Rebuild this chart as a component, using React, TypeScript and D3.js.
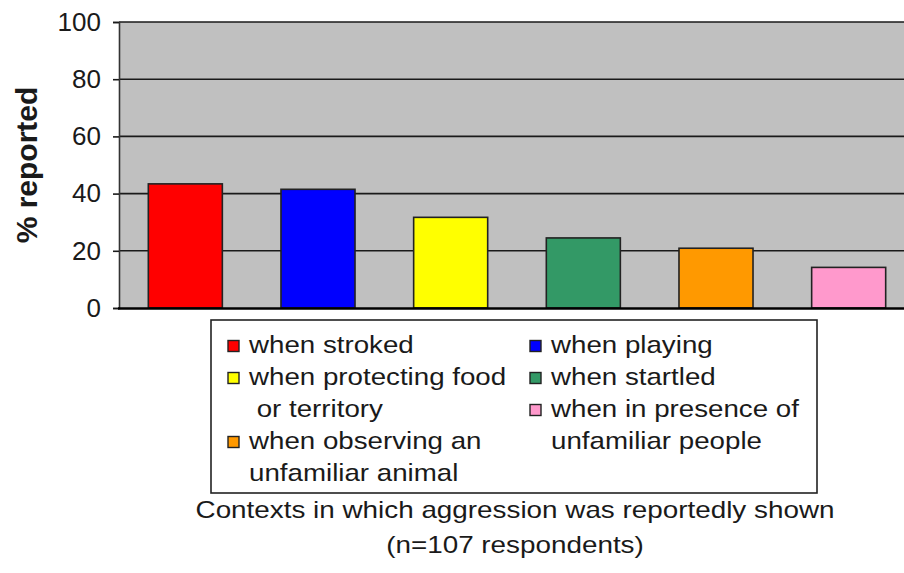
import { useEffect, useRef } from 'react'
import * as d3 from 'd3'

const categories = [
  'when stroked',
  'when playing',
  'when protecting food or territory',
  'when startled',
  'when observing an unfamiliar animal',
  'when in presence of unfamiliar people'
]
const values = [43.4, 41.5, 31.7, 24.5, 20.9, 14.2]
const colors = ['#ff0000', '#0000ff', '#ffff00', '#339966', '#ff9900', '#ff99cc']
const yTicks = [0, 20, 40, 60, 80, 100]

// legend: column, row and the wrapped label lines of each category
const legendCol = [0, 1, 0, 1, 0, 1]
const legendRow = [0, 0, 1, 1, 3, 2]
const legendLines = [
  ['when stroked'],
  ['when playing'],
  ['when protecting food', ' or territory'],
  ['when startled'],
  ['when observing an', 'unfamiliar animal'],
  ['when in presence of', 'unfamiliar people']
]
const xTitle = ['Contexts in which aggression was reportedly shown', '(n=107 respondents)']
const yTitle = '% reported'

const W = 904
const H = 573

export default function App() {
  const svgRef = useRef<SVGSVGElement>(null)

  useEffect(() => {
    if (!svgRef.current) return
    const svg = d3.select(svgRef.current)
    svg.selectAll('*').remove()

    const plot = { left: 119, right: 915, top: 22, bottom: 308 }
    const font = 'Arial, "Liberation Sans", Helvetica, sans-serif'
    const ink = '#1a1a1a'

    const x = d3.scaleBand<string>()
      .domain(categories)
      .range([plot.left, plot.right])
      .paddingInner(0.442)
      .paddingOuter(0.221)

    const y = d3.scaleLinear()
      .domain([0, 100])
      .range([plot.bottom, plot.top])

    // plot background
    svg.append('rect')
      .attr('x', plot.left)
      .attr('y', plot.top)
      .attr('width', plot.right - plot.left)
      .attr('height', plot.bottom - plot.top)
      .attr('fill', '#c0c0c0')

    // grid lines
    svg.append('g')
      .selectAll('line')
      .data(yTicks.filter(d => d > 0))
      .join('line')
      .attr('x1', plot.left)
      .attr('x2', plot.right)
      .attr('y1', d => y(d))
      .attr('y2', d => y(d))
      .attr('stroke', ink)
      .attr('stroke-width', 1.6)

    // bars
    svg.append('g')
      .selectAll('rect')
      .data(values)
      .join('rect')
      .attr('x', (_, i) => x(categories[i])!)
      .attr('y', d => y(d))
      .attr('width', x.bandwidth())
      .attr('height', d => y(0) - y(d))
      .attr('fill', (_, i) => colors[i])
      .attr('stroke', '#222')
      .attr('stroke-width', 1.6)

    // y axis
    const yAxis = d3.axisLeft(y)
      .tickValues(yTicks)
      .tickSize(6)
      .tickPadding(12)
      .tickFormat(d => `${d}`)

    const ya = svg.append('g')
      .attr('transform', `translate(${plot.left}, 0)`)
      .call(yAxis)
    ya.select('.domain').attr('stroke', '#333').attr('stroke-width', 1.6)
    ya.selectAll('.tick line').attr('stroke', ink).attr('stroke-width', 1.6)
    ya.selectAll('.tick text')
      .attr('font-family', font)
      .attr('font-size', 26)
      .attr('fill', ink)

    // x axis baseline
    svg.append('line')
      .attr('x1', plot.left - 1)
      .attr('x2', plot.right)
      .attr('y1', y(0) + 0.5)
      .attr('y2', y(0) + 0.5)
      .attr('stroke', '#000')
      .attr('stroke-width', 2.6)

    // y title
    svg.append('text')
      .attr('transform', `translate(37, ${(plot.top + plot.bottom) / 2}) rotate(-90)`)
      .attr('text-anchor', 'middle')
      .attr('font-family', font)
      .attr('font-weight', 'bold')
      .attr('font-size', 30)
      .attr('fill', ink)
      .text(yTitle)

    // legend
    const lg = { x: 211, y: 320, w: 606, h: 173 }
    svg.append('rect')
      .attr('x', lg.x)
      .attr('y', lg.y)
      .attr('width', lg.w)
      .attr('height', lg.h)
      .attr('fill', '#fff')
      .attr('stroke', '#222')
      .attr('stroke-width', 1.6)

    const colX = [228, 530]
    const firstBase = 353
    const rowStep = 32
    const stretch = 1.155

    categories.forEach((c, i) => {
      const sx = colX[legendCol[i]]
      const base = firstBase + legendRow[i] * rowStep
      svg.append('rect')
        .attr('x', sx)
        .attr('y', base - 12.5)
        .attr('width', 11)
        .attr('height', 11)
        .attr('fill', colors[i])
        .attr('stroke', '#222')
        .attr('stroke-width', 1.4)

      legendLines[i].forEach((line, j) => {
        svg.append('text')
          .attr('transform', `translate(${sx + 21}, ${base + j * rowStep}) scale(${stretch}, 1)`)
          .attr('font-family', font)
          .attr('font-size', 24)
          .attr('fill', ink)
          .attr('xml:space', 'preserve')
          .style('white-space', 'pre')
          .text(line)
      })
    })

    // x title
    xTitle.forEach((t, i) => {
      svg.append('text')
        .attr('transform', `translate(515, ${518 + i * 35}) scale(1.16, 1)`)
        .attr('text-anchor', 'middle')
        .attr('font-family', font)
        .attr('font-size', 24)
        .attr('fill', ink)
        .text(t)
    })
  }, [])

  return (
    <svg
      ref={svgRef}
      width={W}
      height={H}
      style={{ position: 'absolute', left: 0, top: 0, background: '#fff' }}
    />
  )
}
